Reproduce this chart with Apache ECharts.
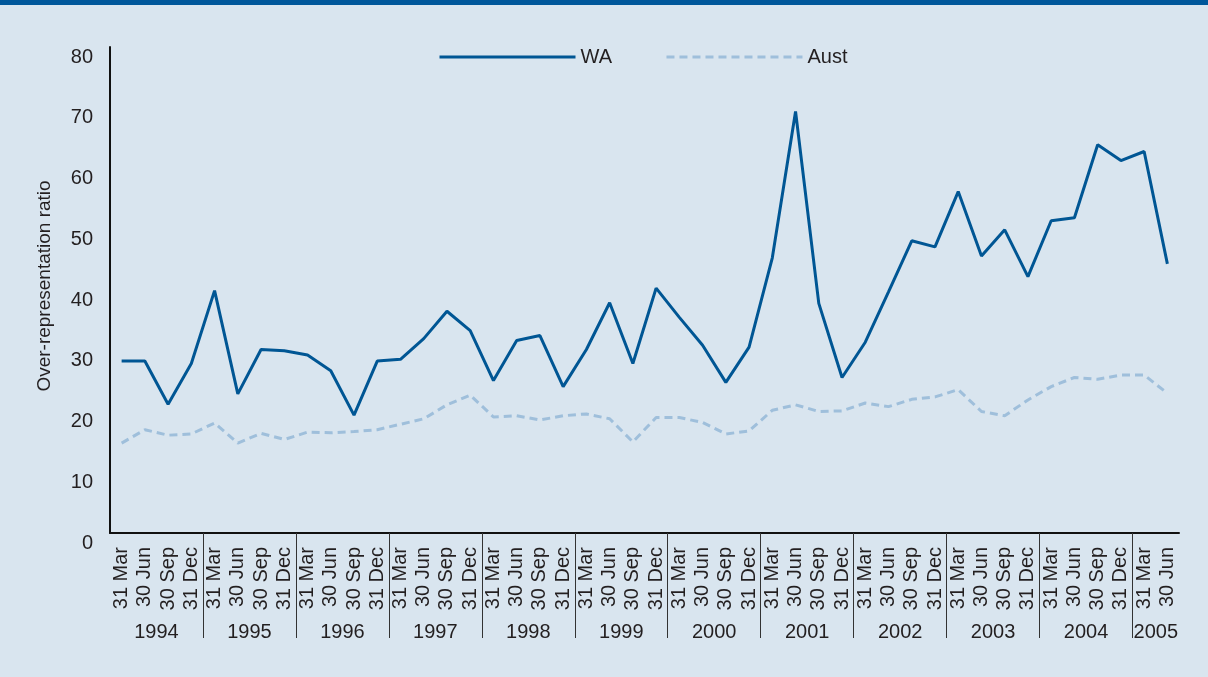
<!DOCTYPE html>
<html>
<head>
<meta charset="utf-8">
<script src="https://cdn.jsdelivr.net/npm/echarts@6/dist/echarts.min.js"></script>
<style>
  html, body { margin: 0; padding: 0; background: #d9e5ef; }
  #chart { width: 1208px; height: 677px; }
</style>
</head>
<body>
<div id="chart"></div>
<script>
// quarters, grouped by year (2005 only has two)
const years = ['1994', '1995', '1996', '1997', '1998', '1999', '2000', '2001', '2002', '2003', '2004', '2005'];
const quartersPerYear = [4, 4, 4, 4, 4, 4, 4, 4, 4, 4, 4, 2];
const quarterLabels = ['31 Mar', '30 Jun', '30 Sep', '31 Dec'];

const wa = [
  28.3, 28.3, 21.2, 27.9, 39.9, 22.9, 30.2, 30.0, 29.3, 26.7, 19.4, 28.3,
  28.6, 32.0, 36.5, 33.3, 25.1, 31.7, 32.5, 24.1, 30.2, 37.9, 27.9, 40.3,
  35.5, 30.9, 24.8, 30.6, 45.3, 69.4, 37.8, 25.6, 31.4, 39.7, 48.1, 47.1,
  56.2, 45.6, 49.9, 42.2, 51.4, 51.9, 63.9, 61.3, 62.8, 44.3
];
const aust = [
  14.8, 17.0, 16.1, 16.3, 18.1, 14.8, 16.4, 15.4, 16.6, 16.5, 16.7, 17.0,
  17.9, 18.8, 21.1, 22.7, 19.1, 19.3, 18.6, 19.3, 19.6, 18.8, 15.0, 19.0,
  19.0, 18.2, 16.3, 16.8, 20.2, 21.1, 20.0, 20.1, 21.4, 20.8, 22.0, 22.4,
  23.6, 20.0, 19.3, 21.9, 24.1, 25.6, 25.3, 26.0, 26.0, 23.0
];

const yMin = 0, yMax = 80, yStep = 10;

const categories = [];
years.forEach((y, i) => {
  for (let q = 0; q < quartersPerYear[i]; q++) categories.push(quarterLabels[q]);
});

// where the year separators and year labels go, in quarter units
const yearBreaks = [];
const yearCentres = [];
let pos = 0;
quartersPerYear.forEach((n, i) => {
  yearCentres.push(pos + n / 2);
  pos += n;
  if (i < years.length - 1) yearBreaks.push(pos);
});

const font = 'Liberation Sans, Arial, sans-serif';
const textColor = '#231f20';

const chart = echarts.init(document.getElementById('chart'));
chart.setOption({
  backgroundColor: '#d9e5ef',
  animation: false,
  textStyle: { fontFamily: font },
  graphic: [
    { type: 'rect', left: 0, top: 0, shape: { width: 1208, height: 5 }, style: { fill: '#00579b' } }
  ],
  legend: {
    left: 433,
    top: 42,
    itemWidth: 136,
    itemHeight: 20,
    itemGap: 53,
    itemStyle: { opacity: 0 },
    lineStyle: { width: 3 },
    textStyle: { fontSize: 20, color: textColor, fontFamily: font },
    data: ['WA', 'Aust']
  },
  grid: { left: 110, right: 29, top: 47, bottom: 144, outerBoundsMode: 'none' },
  xAxis: [
    {
      type: 'category',
      data: categories,
      axisLine: { lineStyle: { color: '#111', width: 2 } },
      axisTick: { show: false },
      axisLabel: {
        rotate: 90,
        interval: 0,
        margin: 14,
        fontSize: 20,
        color: textColor,
        fontFamily: font
      }
    },
    {
      type: 'value',
      position: 'bottom',
      min: 0,
      max: categories.length,
      axisLine: { show: false },
      splitLine: { show: false },
      axisTick: {
        show: true,
        length: 105,
        customValues: yearBreaks,
        lineStyle: { color: '#333', width: 1 }
      },
      axisLabel: {
        customValues: yearCentres,
        margin: 89,
        fontSize: 20,
        color: textColor,
        fontFamily: font,
        formatter: v => years[yearCentres.indexOf(v)] || ''
      }
    }
  ],
  yAxis: {
    type: 'value',
    min: yMin,
    max: yMax,
    interval: yStep,
    name: 'Over-representation ratio',
    nameLocation: 'middle',
    nameGap: 56,
    nameTextStyle: { fontSize: 19, color: textColor, fontFamily: font, padding: [0, 0, 0, 8] },
    axisLine: { show: true, lineStyle: { color: '#111', width: 2 } },
    axisTick: { show: false },
    splitLine: { show: false },
    axisLabel: {
      margin: 17,
      verticalAlign: 'top',
      fontSize: 20,
      color: textColor,
      fontFamily: font
    }
  },
  series: [
    {
      name: 'WA',
      type: 'line',
      data: wa,
      symbol: 'none',
      lineStyle: { color: '#005694', width: 3 },
      itemStyle: { color: '#005694' }
    },
    {
      name: 'Aust',
      type: 'line',
      data: aust,
      symbol: 'none',
      lineStyle: { color: '#9fbfdb', width: 3, type: [8, 5] },
      itemStyle: { color: '#9fbfdb' }
    }
  ]
});
</script>
</body>
</html>
